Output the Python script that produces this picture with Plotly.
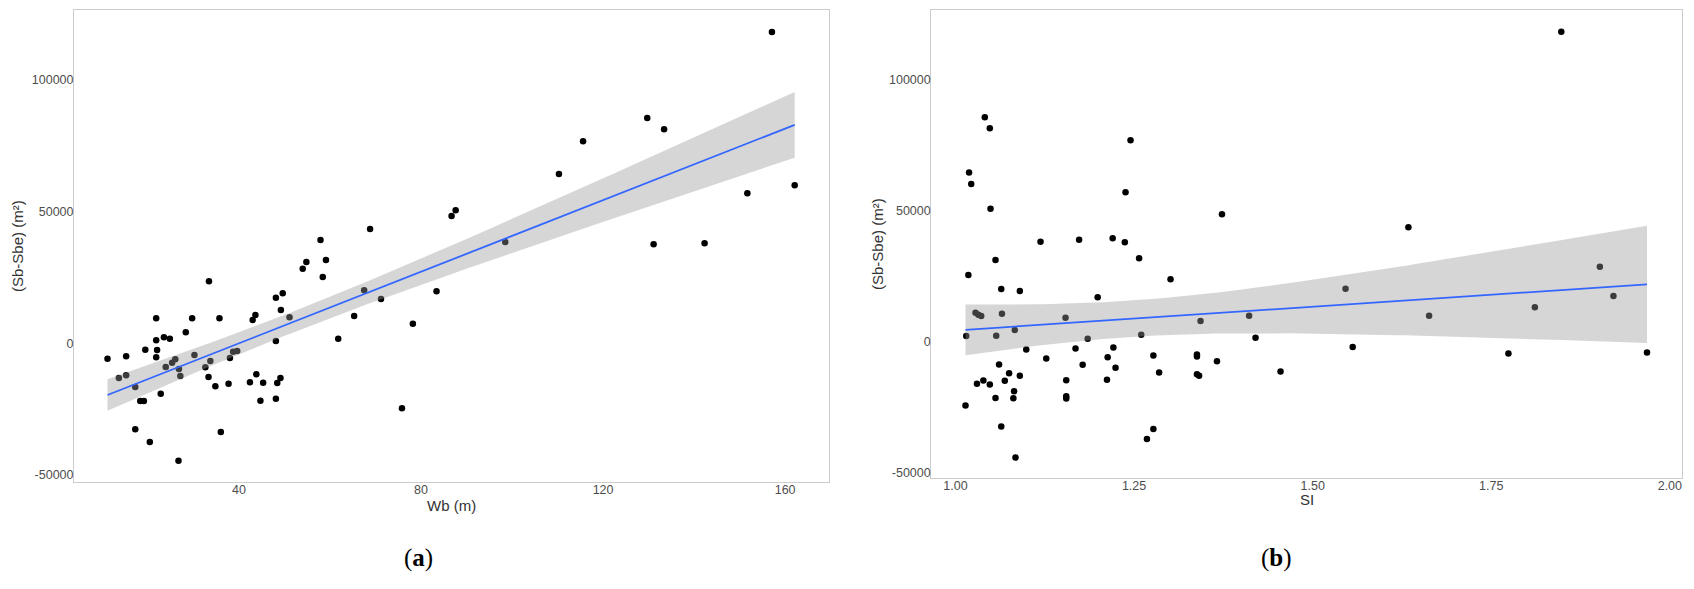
import numpy as np
import plotly.graph_objects as go
from plotly.subplots import make_subplots

# panel (a): Wb (m) vs (Sb-Sbe)
wb = [11.1, 13.6, 15.2, 15.2, 17.2, 17.2, 18.3, 19.1, 19.4, 20.4,
      21.8, 21.8, 22.0, 21.8, 22.8, 23.5, 23.9, 24.8, 25.3, 26.0,
      26.8, 27.1, 26.7, 28.3, 29.7, 30.2, 32.6, 33.3, 33.7, 33.4,
      34.8, 35.7, 36.0, 37.7, 38.0, 38.7, 39.6, 42.4, 43.0, 43.6,
      43.8, 44.7, 45.3, 48.1, 48.1, 48.1, 48.4, 49.1, 49.2, 49.6,
      51.1, 54.0, 54.8, 57.9, 59.1, 58.4, 61.8, 65.3, 67.5, 68.8,
      71.2, 75.8, 78.2, 83.4, 86.7, 87.6, 98.5, 110.3, 115.6, 129.7,
      131.1, 133.4, 142.3, 151.7, 157.1, 162.1]
ds_a = [-5840, -13160, -12140, -4930, -16580, -32630, -21890, -21890, -2430, -37440,
        9480, 1140, -2540, -5310, -19120, 2280, -8990, 1750, -7360, -6070,
        -9750, -12400, -44540, 4170, 9480, -4440, -9100, -12780, -6710, 23520,
        -16310, 9480, -33650, -15330, -5580, -3190, -2920, -14800, 8840, 10740,
        -11760, -21770, -14950, -21020, 870, 17300, -15060, -13160, 12630, 18970,
        9860, 28300, 30840, 39190, 31600, 25150, 1750, 10360, 20100, 43360,
        16800, -24660, 7440, 19730, 48290, 50450, 38430, 64230, 76630, 85470,
        37560, 81180, 37940, 56900, 118100, 59940]

# panel (b): SI vs (Sb-Sbe)
si = [1.041, 1.048, 1.019, 1.022, 1.049, 1.245, 1.238, 1.373, 1.119, 1.173,
      1.220, 1.237, 1.056, 1.257, 1.018, 1.301, 1.064, 1.090, 1.199,
      1.848, 1.634, 1.902, 1.921, 1.546,
      1.811, 1.663, 1.556, 1.774, 1.968, 1.455,
      1.028, 1.032, 1.036, 1.065, 1.154, 1.343, 1.411, 1.420, 1.015, 1.057,
      1.083, 1.185, 1.260,
      1.099, 1.127, 1.168, 1.221, 1.213, 1.277, 1.338, 1.338, 1.366, 1.061,
      1.178, 1.075, 1.090, 1.224, 1.285, 1.338, 1.341, 1.030, 1.039, 1.048,
      1.069, 1.082, 1.155, 1.212, 1.056, 1.081, 1.155, 1.155, 1.014, 1.064,
      1.277, 1.268, 1.084]
ds_b = [85580, 81390, 64460, 60150, 50720, 76810, 56980, 48590, 38140, 38900,
        39430, 37910, 31160, 31800, 25440, 23800, 20100, 19340, 16930,
        118110, 43630, 28600, 17430, 20210,
        13120, 9920, -2020, -4420, -4040, -11290,
        11060, 10300, 9800, 10680, 9150, 7900, 9920, 1530, 2170, 2290,
        4460, 1140, 2670,
        -2900, -6330, -2520, -2140, -5840, -5190, -4810, -5570, -7360, -8620,
        -8770, -11940, -12960, -9920, -11670, -12320, -12960, -16020, -14720, -16250,
        -14870, -18800, -14600, -14490, -21360, -21470, -20710, -21580, -24260, -32270,
        -33180, -36990, -44090]

y_ticks = [-50000, 0, 50000, 100000]
y_labels = ["-50000", "0", "50000", "100000"]
wb_ticks = [40, 80, 120, 160]
si_ticks = [1.00, 1.25, 1.50, 1.75, 2.00]
si_labels = ["1.00", "1.25", "1.50", "1.75", "2.00"]


def lm_fit(x, y, t=1.993, n_grid=80):
    # same as geom_smooth(method = "lm"): OLS line with 95% confidence band
    x = np.asarray(x, float)
    y = np.asarray(y, float)
    n = len(x)
    b, a = np.polyfit(x, y, 1)
    resid = y - (a + b * x)
    s = np.sqrt(np.sum(resid ** 2) / (n - 2))
    xm = x.mean()
    sxx = np.sum((x - xm) ** 2)
    gx = np.linspace(x.min(), x.max(), n_grid)
    gy = a + b * gx
    se = s * np.sqrt(1 / n + (gx - xm) ** 2 / sxx)
    return gx, gy, gy - t * se, gy + t * se


fig = make_subplots(rows=1, cols=2, horizontal_spacing=0.0634)

for col, (x, y) in enumerate([(wb, ds_a), (si, ds_b)], start=1):
    gx, gy, lo, hi = lm_fit(x, y)
    fig.add_trace(go.Scatter(x=x, y=y, mode="markers",
                             marker=dict(color="black", size=6.5)), row=1, col=col)
    fig.add_trace(go.Scatter(x=gx, y=lo, mode="lines", line=dict(width=0),
                             hoverinfo="skip"), row=1, col=col)
    fig.add_trace(go.Scatter(x=gx, y=hi, mode="lines", line=dict(width=0),
                             fill="tonexty", fillcolor="rgba(153,153,153,0.4)",
                             hoverinfo="skip"), row=1, col=col)
    fig.add_trace(go.Scatter(x=gx, y=gy, mode="lines",
                             line=dict(color="#3366FF", width=1.8)), row=1, col=col)

axis_style = dict(showgrid=False, zeroline=False, showline=True, mirror=True,
                  linecolor="#cccccc", linewidth=1, ticks="", automargin=False,
                  tickfont=dict(family="Liberation Sans", size=12.5, color="#4d4d4d"))

fig.update_xaxes(axis_style, ticklabelstandoff=-4)
fig.update_yaxes(axis_style, ticklabelstandoff=-3, tickvals=y_ticks, ticktext=y_labels)
fig.update_xaxes(range=[3.74, 169.7], tickvals=wb_ticks, domain=[0, 0.4697], row=1, col=1)
fig.update_xaxes(range=[0.966, 2.017], tickvals=si_ticks, ticktext=si_labels,
                 domain=[0.5331, 1], row=1, col=2)
fig.update_yaxes(range=[-52620, 126440], domain=[0, 1], row=1, col=1)
fig.update_yaxes(range=[-51870, 126390], domain=[0.0085, 1], row=1, col=2)

title_font = dict(family="Liberation Sans", size=15, color="#333333")
label_font = dict(family="Liberation Serif", size=25, color="black")
annotations = [
    dict(text="(Sb-Sbe) (m²)", x=17, y=246, textangle=-90),
    dict(text="(Sb-Sbe) (m²)", x=877, y=244, textangle=-90),
    dict(text="Wb (m)", x=451.7, y=505),
    dict(text="SI", x=1306.5, y=500),
]
for a in annotations:
    fig.add_annotation(text=a["text"], x=(a["x"] - 74) / 1608, y=1 - (a["y"] - 10) / 472,
                       xref="paper", yref="paper", showarrow=False,
                       textangle=a.get("textangle", 0), font=title_font,
                       xanchor="center", yanchor="middle")
for txt, px in [("(<b>a</b>)", 418.3), ("(<b>b</b>)", 1276.7)]:
    fig.add_annotation(text=txt, x=(px - 74) / 1608, y=1 - (558 - 10) / 472,
                       xref="paper", yref="paper", showarrow=False, font=label_font,
                       xanchor="center", yanchor="middle")

fig.update_layout(width=1694, height=589, showlegend=False,
                  plot_bgcolor="white", paper_bgcolor="white",
                  margin=dict(l=74, r=12, t=10, b=107))

# the page's default body margin would shift the whole figure by 8px
fig.write_html("out.html", config={"displayModeBar": False},
               post_script="document.body.style.margin='0';")
